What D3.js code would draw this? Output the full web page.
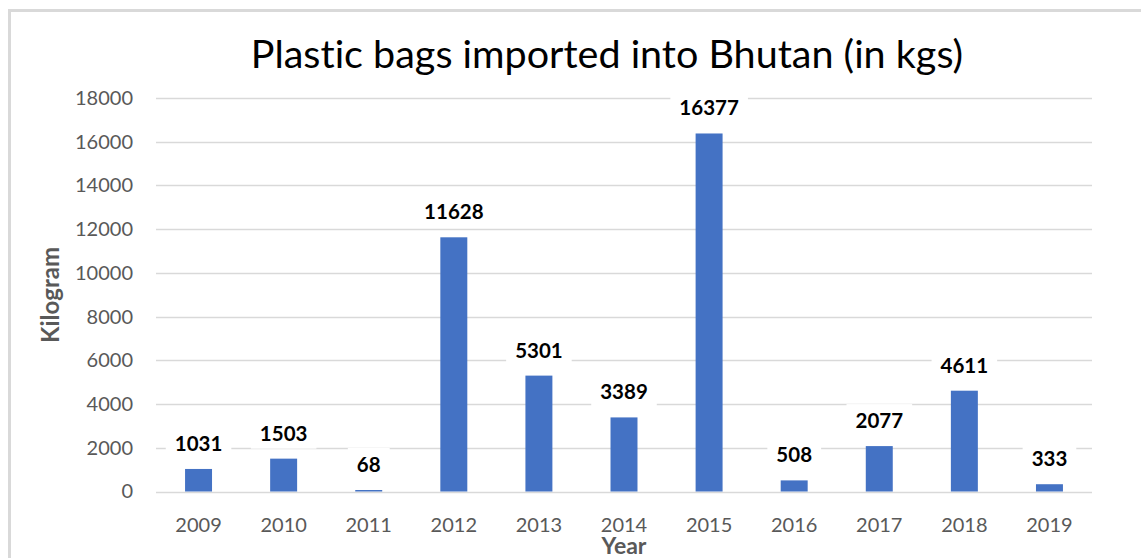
<!DOCTYPE html>
<html>
<head>
<meta charset="utf-8">
<script src="https://cdn.jsdelivr.net/npm/d3@7"></script>
<style>
  html, body { margin: 0; padding: 0; background: #fff; }
  svg { display: block; }
  text { font-variant-ligatures: none; font-feature-settings: "liga" 0, "dlig" 0; }
</style>
</head>
<body>
<svg id="chart" width="1141" height="558"></svg>
<script>
// Annual imports of plastic bags, kilograms
const years = ["2009", "2010", "2011", "2012", "2013", "2014", "2015", "2016", "2017", "2018", "2019"];
const kilograms = [1031, 1503, 68, 11628, 5301, 3389, 16377, 508, 2077, 4611, 333];
const yTicks = [0, 2000, 4000, 6000, 8000, 10000, 12000, 14000, 16000, 18000];
const titleText = "Plastic bags imported into Bhutan (in kgs)";
const yTitle = "Kilogram";
const xTitle = "Year";

const FONT = "Lato, 'Open Sans', sans-serif";
const svg = d3.select("#chart");

const plot = { left: 156, right: 1092, top: 98, bottom: 491.5 };

// chart frame
svg.append("rect")
  .attr("x", 9.5).attr("y", 10.5)
  .attr("width", 1200).attr("height", 600)
  .attr("fill", "#fff")
  .attr("stroke", "#d9d9d9").attr("stroke-width", 3);

const x = d3.scaleBand()
  .domain(years)
  .range([plot.left, plot.right])
  .paddingInner(0.683)
  .paddingOuter(0.3415);

const y = d3.scaleLinear()
  .domain([0, 18000])
  .range([plot.bottom, plot.top]);

// gridlines
svg.append("g")
  .selectAll("line")
  .data(yTicks)
  .join("line")
  .attr("x1", plot.left).attr("x2", plot.right)
  .attr("y1", d => Math.round(y(d)) + 0.5).attr("y2", d => Math.round(y(d)) + 0.5)
  .attr("stroke", "#d9d9d9").attr("stroke-width", 1.5);

// y axis labels
const yAxis = d3.axisLeft(y).tickValues(yTicks).tickSize(0).tickPadding(0).tickFormat(d3.format("d"));
const yg = svg.append("g").attr("transform", `translate(133,0)`).call(yAxis);
yg.select(".domain").remove();
yg.selectAll("text")
  .attr("fill", "#595959")
  .style("font-family", FONT)
  .style("font-size", "20px");

// x axis labels
const xAxis = d3.axisBottom(x).tickSize(0).tickPadding(0);
const xg = svg.append("g").attr("transform", `translate(0,${plot.bottom})`).call(xAxis);
xg.select(".domain").remove();
xg.selectAll("text")
  .attr("fill", "#595959")
  .attr("dy", null)
  .attr("y", 40)
  .style("font-family", FONT)
  .style("font-size", "20px");

// bars
svg.append("g")
  .selectAll("rect")
  .data(years.map((yr, i) => ({ yr, v: kilograms[i] })))
  .join("rect")
  .attr("x", d => x(d.yr))
  .attr("width", x.bandwidth())
  .attr("y", d => y(d.v))
  .attr("height", d => y(0) - y(d.v))
  .attr("fill", "#4472C4");

// value labels with white backing boxes
const labels = svg.append("g")
  .selectAll("g")
  .data(years.map((yr, i) => ({ yr, v: kilograms[i] })))
  .join("g")
  .attr("transform", d => `translate(${x(d.yr) + x.bandwidth() / 2},${y(d.v) - 18})`);

labels.append("text")
  .attr("text-anchor", "middle")
  .attr("fill", "#000")
  .style("font-family", FONT)
  .style("font-size", "20.5px")
  .style("font-weight", "bold")
  .text(d => d.v);

labels.each(function () {
  const g = d3.select(this);
  const bb = g.select("text").node().getBBox();
  g.insert("rect", "text")
    .attr("x", bb.x - 9).attr("y", bb.y - 4)
    .attr("width", bb.width + 18).attr("height", bb.height + 8)
    .attr("fill", "#fff");
});

// title
svg.append("text")
  .attr("x", 607).attr("y", 68)
  .attr("text-anchor", "middle")
  .attr("fill", "#000")
  .style("font-family", FONT)
  .style("font-size", "39.5px")
  .text(titleText);

// axis titles
svg.append("text")
  .attr("transform", "translate(59,295) rotate(-90)")
  .attr("text-anchor", "middle")
  .attr("fill", "#595959")
  .style("font-family", FONT)
  .style("font-size", "24px")
  .style("font-weight", "bold")
  .text(yTitle);

svg.append("text")
  .attr("x", 624).attr("y", 554)
  .attr("text-anchor", "middle")
  .attr("fill", "#595959")
  .style("font-family", FONT)
  .style("font-size", "23px")
  .style("font-weight", "bold")
  .text(xTitle);
</script>
</body>
</html>
